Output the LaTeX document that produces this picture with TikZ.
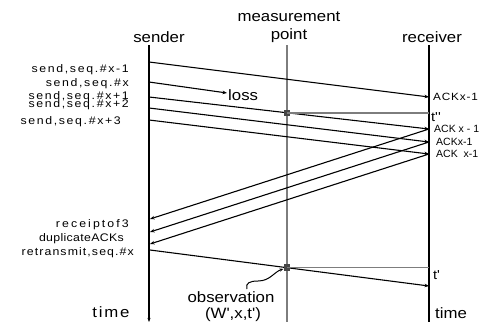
\documentclass[tikz,border=0pt]{standalone}
\usepackage{fontspec}
\setmainfont{Liberation Sans}
\newfontfamily\wide[FakeStretch=1.12]{Liberation Sans}
\usetikzlibrary{arrows.meta,positioning,calc}
\definecolor{mpgrey}{RGB}{125,125,125}
\definecolor{obsgrey}{RGB}{70,70,70}
\newcommand{\ls}[1]{\addfontfeatures{LetterSpace=#1}}

\begin{document}
\begin{tikzpicture}[x=1pt,y=-1pt,
    big/.style={font=\wide\fontsize{15}{15}\selectfont,inner sep=0pt},
    lbl/.style={inner sep=0pt,anchor=east},
    ack/.style={font=\fontsize{10.5}{11}\selectfont,inner sep=0pt,anchor=west},
    msg/.style={line width=1.1pt,-{Stealth[length=4.5pt,width=3.5pt]}},
    tline/.style={line width=1.6pt},
    greyline/.style={draw=mpgrey,line width=1.5pt},
    obsbox/.style={fill=obsgrey,minimum size=6.5pt,inner sep=0pt}]
  \useasboundingbox (0,0) rectangle (483,322);
  % time lines
  \coordinate (sTop) at (149,45);  \coordinate (sBot) at (149,322);
  \coordinate (mTop) at (287,45);  \coordinate (mBot) at (287,322);
  \coordinate (rTop) at (429,45);  \coordinate (rBot) at (429,322);
  \draw[tline,-{Stealth[length=4pt,width=3pt]}] (sTop) -- (sBot);
  \draw[greyline] (mTop) -- (mBot);
  \draw[tline] (rTop) -- (rBot);
  \node[big] (sender) at (159,37) {sender};
  \node[big] (meas) at (289,17) {measurement};
  \node[big,below=6pt of meas] (point) {point};
  \node[big] (receiver) at (432,37) {receiver};
  % segments sent
  \coordinate (d1) at (149,62);  \coordinate (a1) at (429,97);
  \coordinate (d2) at (149,82);  \coordinate (lost) at (227,93);
  \coordinate (d3) at (149,97);  \coordinate (a3) at (429,129);
  \coordinate (d4) at (149,108); \coordinate (a4) at (429,142);
  \coordinate (d5) at (149,120); \coordinate (a5) at (429,154);
  \draw[msg] (d1) -- (a1);
  \draw[msg] (d2) -- (lost);
  \draw[msg] (d3) -- (a3);
  \draw[msg] (d4) -- (a4);
  \draw[msg] (d5) -- (a5);
  % duplicate acks
  \coordinate (k1) at (150,219);
  \coordinate (k2) at (150,232);
  \coordinate (k3) at (150,244);
  \draw[msg] (a3) -- (k1);
  \draw[msg] (a4) -- (k2);
  \draw[msg] (a5) -- (k3);
  % retransmission
  \coordinate (rt) at (150,250); \coordinate (rtEnd) at (429,286);
  \draw[msg] (rt) -- (rtEnd);
  % observations
  \node[obsbox] (o1) at ($(d3)!0.4929!(a3)$) {};
  \node[obsbox] (o2) at ($(rt)!0.491!(rtEnd)$) {};
  \draw[greyline] (o1.center) -- (o1.center -| rTop);
  \draw[greyline] (o2.center) -- (o2.center -| rTop);
  \node[big,font=\wide\fontsize{13}{13}\selectfont,anchor=west] (tpp) at (431,117) {t''};
  \node[big,font=\wide\fontsize{13}{13}\selectfont,anchor=west] (tp) at (433,275) {t'};
  % labels
  \node[lbl,font=\wide\fontsize{11}{11}\selectfont\ls{15}] (l1) at (129,70) {send,seq.\#x-1};
  \node[lbl,font=\wide\fontsize{11}{11}\selectfont\ls{15}] (l2) at (129,84) {send,seq.\#x};
  \node[lbl,font=\wide\fontsize{11}{11}\selectfont\ls{15}] (l3) at (129,97) {send,seq.\#x+1};
  \node[lbl,font=\wide\fontsize{11}{11}\selectfont\ls{15}] (l4) at (129,105) {send,seq.\#x+2};
  \node[lbl,font=\wide\fontsize{11}{11}\selectfont\ls{15}] (l5) at (121,122) {send,seq.\#x+3};
  \node[lbl,font=\wide\fontsize{11}{11}\selectfont\ls{19}] (l6) at (129,225) {receiptof3};
  \node[lbl,font=\wide\fontsize{11}{11}\selectfont\ls{3}] (l7) at (124,239) {duplicateACKs};
  \node[lbl,font=\wide\fontsize{11}{11}\selectfont\ls{10}] (l8) at (134,253) {retransmit,seq.\#x};
  \node[ack,font=\wide\fontsize{10.5}{11}\selectfont\ls{8}] (k0) at (433,97) {ACKx-1};
  \node[ack] (kk1) at (434,129) {ACK x - 1};
  \node[ack] (kk2) at (436,142) {ACKx-1};
  \node[ack] (kk3) at (436,154) {ACK~~x-1};
  \node[big,anchor=west] (loss) at (228,95) {loss};
  \node[big,font=\wide\fontsize{15}{15}\selectfont\ls{12}] (tleft) at (111,312) {time};
  \node[big,anchor=west] (tright) at (435,313) {time};
  \node[big] (obs) at (231,297) {observation};
  \node[big] (obsval) at (233,315) {(W',x,t')};
  \coordinate (sq) at (247,289);
  \draw[line width=1pt,-{Stealth[length=4pt,width=3pt]}] (sq)
    .. controls (245,283) and (250,281) .. (258,281)
    .. controls (270,281) and (274,272) .. (o2);
\end{tikzpicture}
\end{document}
